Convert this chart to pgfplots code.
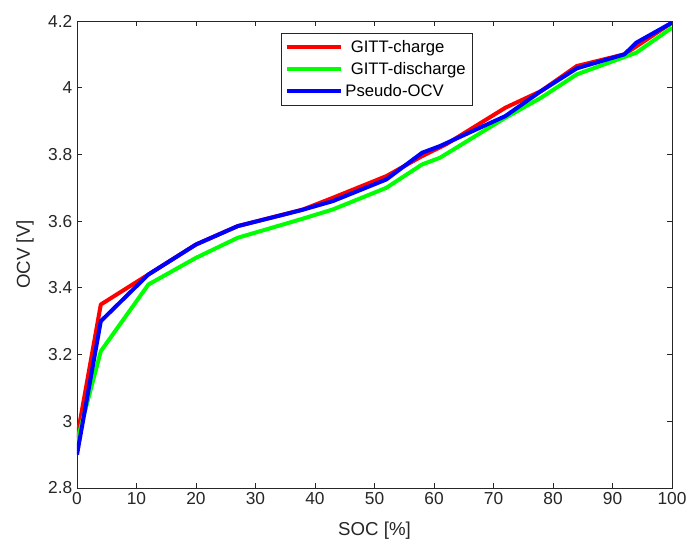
\documentclass[border=0pt]{standalone}
\usepackage{pgfplots}
\pgfplotsset{compat=1.18}
\usepackage{fontspec}
\setmainfont{Liberation Sans}
\definecolor{axgray}{rgb}{0.15,0.15,0.15}
\begin{document}
\begin{tikzpicture}
\begin{axis}[
  at={(0,0)}, anchor=south west,
  scale only axis,
  width=446.25pt, height=350.25pt,
  xmin=0, xmax=100, ymin=2.8, ymax=4.2,
  xtick={0,10,...,100},
  ytick={2.8,3.0,3.2,3.4,3.6,3.8,4.0,4.2},
  yticklabels={2.8,3,3.2,3.4,3.6,3.8,4,4.2},
  tick align=inside,
  major tick length=4pt,
  axis line style={axgray, line width=0.6pt},
  every tick/.style={axgray, line width=0.6pt},
  tick label style={font=\fontsize{13}{15}\selectfont, text=axgray},
  /pgf/number format/assume math mode=true,
  label style={font=\fontsize{14}{16}\selectfont, text=axgray},
  xlabel={SOC [\%]},
  ylabel={OCV [V]},
  xlabel style={yshift=-6pt},
  ylabel style={yshift=4pt},
  legend style={at={(0.343,0.974)}, anchor=north west, draw=axgray, line width=0.6pt,
    font=\fontsize{12.5}{14}\selectfont, text=black, cells={anchor=west},
    inner sep=3pt, row sep=2pt},
  legend image code/.code={\draw[#1] (0pt,0pt) -- (40pt,0pt);},
]
\addplot[red, line width=3pt, line join=round] coordinates {
(0,2.95) (4,3.35) (12,3.44) (20,3.53) (27,3.585) (38,3.635) (43,3.67) (52,3.735)
(58,3.795) (62,3.83) (72,3.94) (78,3.99) (84,4.065) (92,4.10) (100,4.195)};
\addlegendentry{\hspace{4pt}GITT-charge}
\addplot[green, line width=3pt, line join=round] coordinates {
(0,2.94) (4,3.21) (12,3.41) (20,3.49) (27,3.55) (37.5,3.605) (43,3.635) (52,3.70)
(58,3.77) (61,3.79) (72,3.91) (78,3.97) (84,4.04) (94,4.105) (100,4.18)};
\addlegendentry{\hspace{4pt}GITT-discharge}
\addplot[blue, line width=3pt, line join=round] coordinates {
(0,2.90) (4,3.30) (12,3.44) (20,3.53) (27,3.585) (37.5,3.632) (43,3.66) (52,3.725)
(58,3.805) (61,3.825) (72,3.915) (78,3.99) (84,4.058) (92,4.10) (94,4.135) (100,4.195)};
\addlegendentry{Pseudo-OCV}
\end{axis}
\pgfresetboundingbox
\path (-57.75pt,-45pt) rectangle (458.25pt,366pt);
\end{tikzpicture}
\end{document}
